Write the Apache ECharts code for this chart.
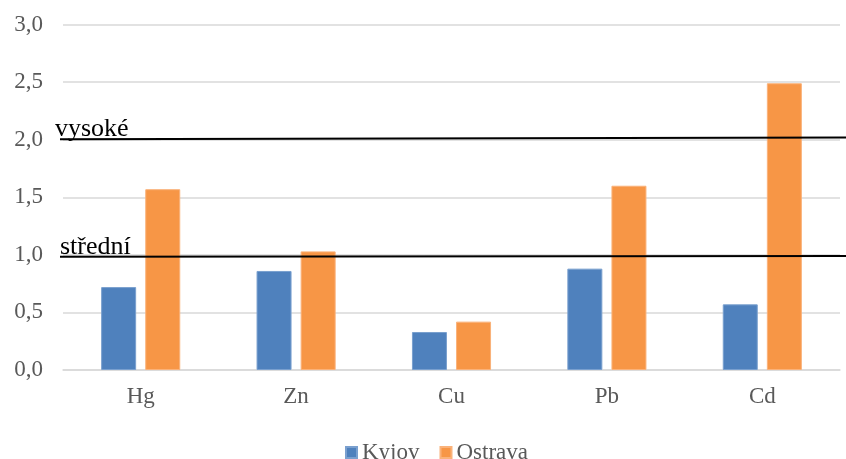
<!DOCTYPE html>
<html>
<head>
<meta charset="utf-8">
<script src="https://cdn.jsdelivr.net/npm/echarts@6/dist/echarts.min.js"></script>
<style>html,body{margin:0;padding:0;background:#fff}#c{width:846px;height:459px}</style>
</head>
<body>
<div id="c"></div>
<script>
const categories = ['Hg', 'Zn', 'Cu', 'Pb', 'Cd'];
const kyjov = [0.72, 0.86, 0.33, 0.88, 0.57];
const ostrava = [1.57, 1.03, 0.42, 1.60, 2.49];
const yTicks = [0, 0.5, 1.0, 1.5, 2.0, 2.5, 3.0];
const levelNames = ['vysoké', 'střední'];
const levelVysoke = [[0, 2.003], [1, 2.018]];
const levelStredni = [[0, 0.983], [1, 0.990]];

const font = '"Liberation Serif", "Times New Roman", serif';
const chart = echarts.init(document.getElementById('c'));

function levelSeries(name, data, dx) {
  return {
    type: 'line', xAxisIndex: 1, yAxisIndex: 1, silent: true,
    symbol: 'circle', symbolSize: 0, showSymbol: true, animation: false,
    itemStyle: { color: '#000' },
    lineStyle: { color: '#000', width: 2 },
    data: data.map((p, i) => i === 0 ? {
      value: p,
      label: {
        show: true, formatter: name, position: 'top', align: 'left',
        distance: 0, offset: [dx, 3],
        color: '#000', fontFamily: font, fontSize: 26
      }
    } : { value: p })
  };
}

chart.setOption({
  animation: false,
  textStyle: { fontFamily: font },
  legend: {
    data: ['Kyjov', 'Ostrava'],
    left: 340, top: 436,
    itemWidth: 11, itemHeight: 11, itemGap: 20,
    icon: 'rect',
    textStyle: { color: '#595959', fontSize: 23, fontFamily: font }
  },
  grid: [
    { left: 63, right: 6, top: 24.5, bottom: 89 },
    { left: 60, right: 0, top: 24.5, bottom: 89 }
  ],
  xAxis: [{
    type: 'category', data: categories, gridIndex: 0,
    axisLine: { lineStyle: { color: '#d9d9d9', width: 1.5 } },
    axisTick: { show: false },
    axisLabel: { color: '#595959', fontSize: 23, fontFamily: font, margin: 15 }
  }, {
    type: 'value', gridIndex: 1, min: 0, max: 1, show: false
  }],
  yAxis: [{
    type: 'value', gridIndex: 0, min: 0, max: 3, interval: 0.5,
    axisLine: { show: false }, axisTick: { show: false },
    splitLine: { lineStyle: { color: '#d9d9d9', width: 1.5 } },
    axisLabel: {
      color: '#595959', fontSize: 23, fontFamily: font, margin: 20,
      formatter: v => yTicks.includes(v) ? v.toFixed(1).replace('.', ',') : ''
    }
  }, {
    type: 'value', gridIndex: 1, min: 0, max: 3, show: false
  }],
  series: [
    { name: 'Kyjov', type: 'bar', data: kyjov, barWidth: 35, barGap: '26%',
      itemStyle: { color: '#4f81bd', borderColor: '#7aa0cf', borderWidth: 1 } },
    { name: 'Ostrava', type: 'bar', data: ostrava, barWidth: 35, barGap: '26%',
      itemStyle: { color: '#f79646', borderColor: '#fab27a', borderWidth: 1 } },
    levelSeries(levelNames[0], levelVysoke, -5),
    levelSeries(levelNames[1], levelStredni, 0)
  ]
});
</script>
</body>
</html>
